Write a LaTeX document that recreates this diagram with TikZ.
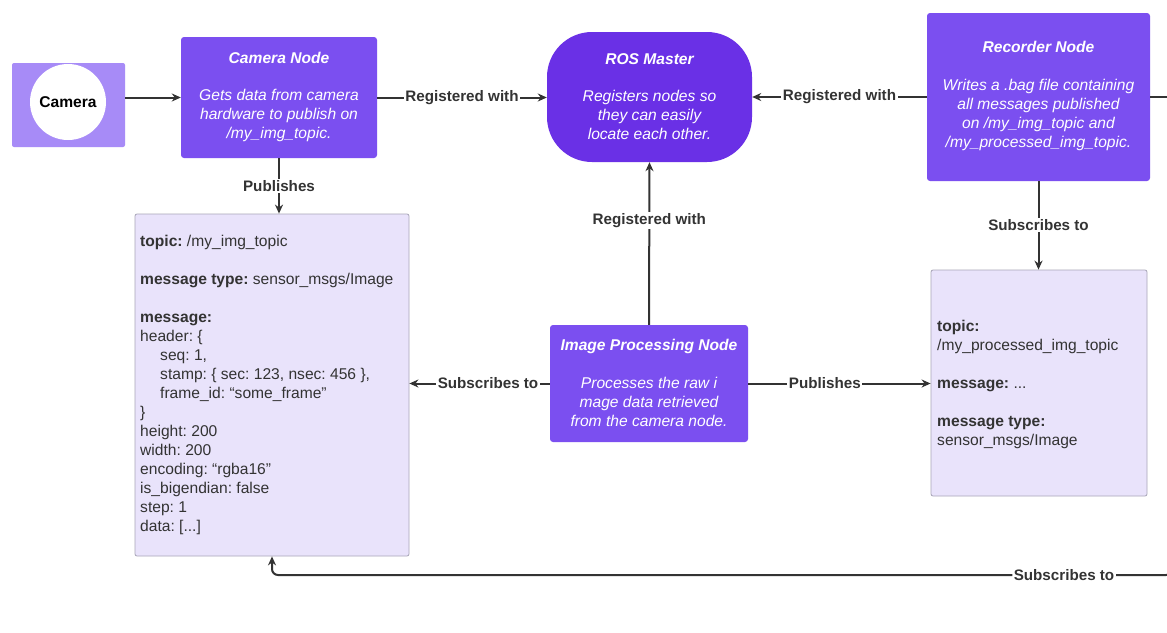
\documentclass[tikz,border=0pt]{standalone}
\usepackage{fontspec}
\setmainfont{Liberation Sans}
\usetikzlibrary{arrows.meta}
\definecolor{lav}{HTML}{A78BF7}
\definecolor{nodeP}{HTML}{7B4FF0}
\definecolor{master}{HTML}{6A30E6}
\definecolor{msgfill}{HTML}{E9E3FB}
\definecolor{msgline}{HTML}{A8A5B8}
\definecolor{txt}{HTML}{333333}
\frenchspacing
\begin{document}
\begin{tikzpicture}[x=1pt,y=-1pt,
  pbox/.style={fill=nodeP, rounded corners=3pt, inner sep=0pt},
  mbox/.style={fill=msgfill, draw=msgline, line width=0.8pt, rounded corners=2pt, inner sep=0pt},
  wtext/.style={text=white, align=center, inner sep=0pt, font=\fontsize{15.6}{19}\selectfont\itshape},
  mtext/.style={text=txt, align=left, inner sep=0pt, anchor=north west, font=\fontsize{15.6}{19}\selectfont},
  lbl/.style={fill=white, text=txt, inner sep=1.5pt, font=\bfseries\fontsize{15.2}{17}\selectfont},
  conn/.style={draw=txt, line width=2pt},
  arr/.style={conn, -{Stealth[length=9pt,width=8pt]}}
]
\useasboundingbox[fill=white] (0,0) rectangle (1167,632);

% nodes
\node[fill=lav, rounded corners=2pt, minimum width=113pt, minimum height=84pt, inner sep=0pt] (camb) at (68.5,105) {};
\node[circle, fill=white, minimum size=76pt, inner sep=0pt, text=black, font=\bfseries\fontsize{15.6}{18}\selectfont] (camc) at (68,102) {Camera};

\node[pbox, minimum width=196pt, minimum height=121pt] (cam) at (279,97.5) {};
\node[wtext] (camT) at (279,97) {\textbf{Camera Node}\\[18pt]Gets data from camera\\hardware to publish on\\/my\_img\_topic.};

\node[fill=master, rounded corners=45pt, minimum width=205pt, minimum height=130pt, inner sep=0pt] (ros) at (649.5,97) {};
\node[wtext] (rosT) at (649.5,97) {\textbf{ROS Master}\\[18pt]Registers nodes so\\they can easily\\locate each other.};

\node[pbox, minimum width=223pt, minimum height=168pt] (rec) at (1038.5,97) {};
\node[wtext] (recT) at (1038.5,96) {\textbf{Recorder Node}\\[19pt]Writes a .bag file containing\\all messages published\\on /my\_img\_topic and\\/my\_processed\_img\_topic.};

\node[pbox, minimum width=198pt, minimum height=117pt] (img) at (649,383.5) {};
\node[wtext] (imgT) at (649,383) {\textbf{Image Processing Node}\\[19pt]Processes the raw i\\mage data retrieved\\from the camera node.};

\node[mbox, minimum width=274pt, minimum height=342pt] (msg) at (272,385) {};
\node[mtext] (msgT) at (140,234.5) {\textbf{topic:} /my\_img\_topic\\[19pt]
\textbf{message type:} sensor\_msgs/Image\\[19pt]
\textbf{message:}\\
header: \{\\
\hspace*{20pt}seq: 1,\\
\hspace*{20pt}stamp: \{ sec: 123, nsec: 456 \},\\
\hspace*{20pt}frame\_id: ``some\_frame''\\
\}\\
height: 200\\
width: 200\\
encoding: ``rgba16''\\
is\_bigendian: false\\
step: 1\\
data: [...]};

\node[mbox, minimum width=216pt, minimum height=226pt] (proc) at (1039,383) {};
\node[mtext] (procT) at (937,319.5) {\textbf{topic:}\\
/my\_processed\_img\_topic\\[19pt]
\textbf{message:} ...\\[19pt]
\textbf{message type:}\\
sensor\_msgs/Image};

% connectors
\draw[arr] (camb.east |- cam.west) -- (cam.west);
\draw[arr] (cam.east) -- node[lbl]{Registered with} (cam.east -| ros.west);
\draw[arr] (rec.west) -- node[lbl]{Registered with} (ros.east);
\draw[arr] (cam.south) -- node[lbl]{Publishes} (cam.south |- msg.north);
\draw[arr] (rec.south) -- node[lbl]{Subscribes to} (rec.south |- proc.north);
\draw[arr] (img.north) -- node[lbl, pos=0.64]{Registered with} (ros.south);
\draw[arr] (img.west) -- node[lbl, pos=0.44]{Subscribes to} (img.west -| msg.east);
\draw[arr] (img.east) -- node[lbl, pos=0.42]{Publishes} (img.east -| proc.west);
\coordinate (c1) at (1172,97);
\coordinate (c2) at (1172,575);
\draw[conn] (rec.east) -- (c1);
\draw[arr, rounded corners=6pt] (c1) -- (c2) -- node[lbl, pos=0.12]{Subscribes to} (c2 -| msg.south) -- (msg.south);
\end{tikzpicture}
\end{document}
